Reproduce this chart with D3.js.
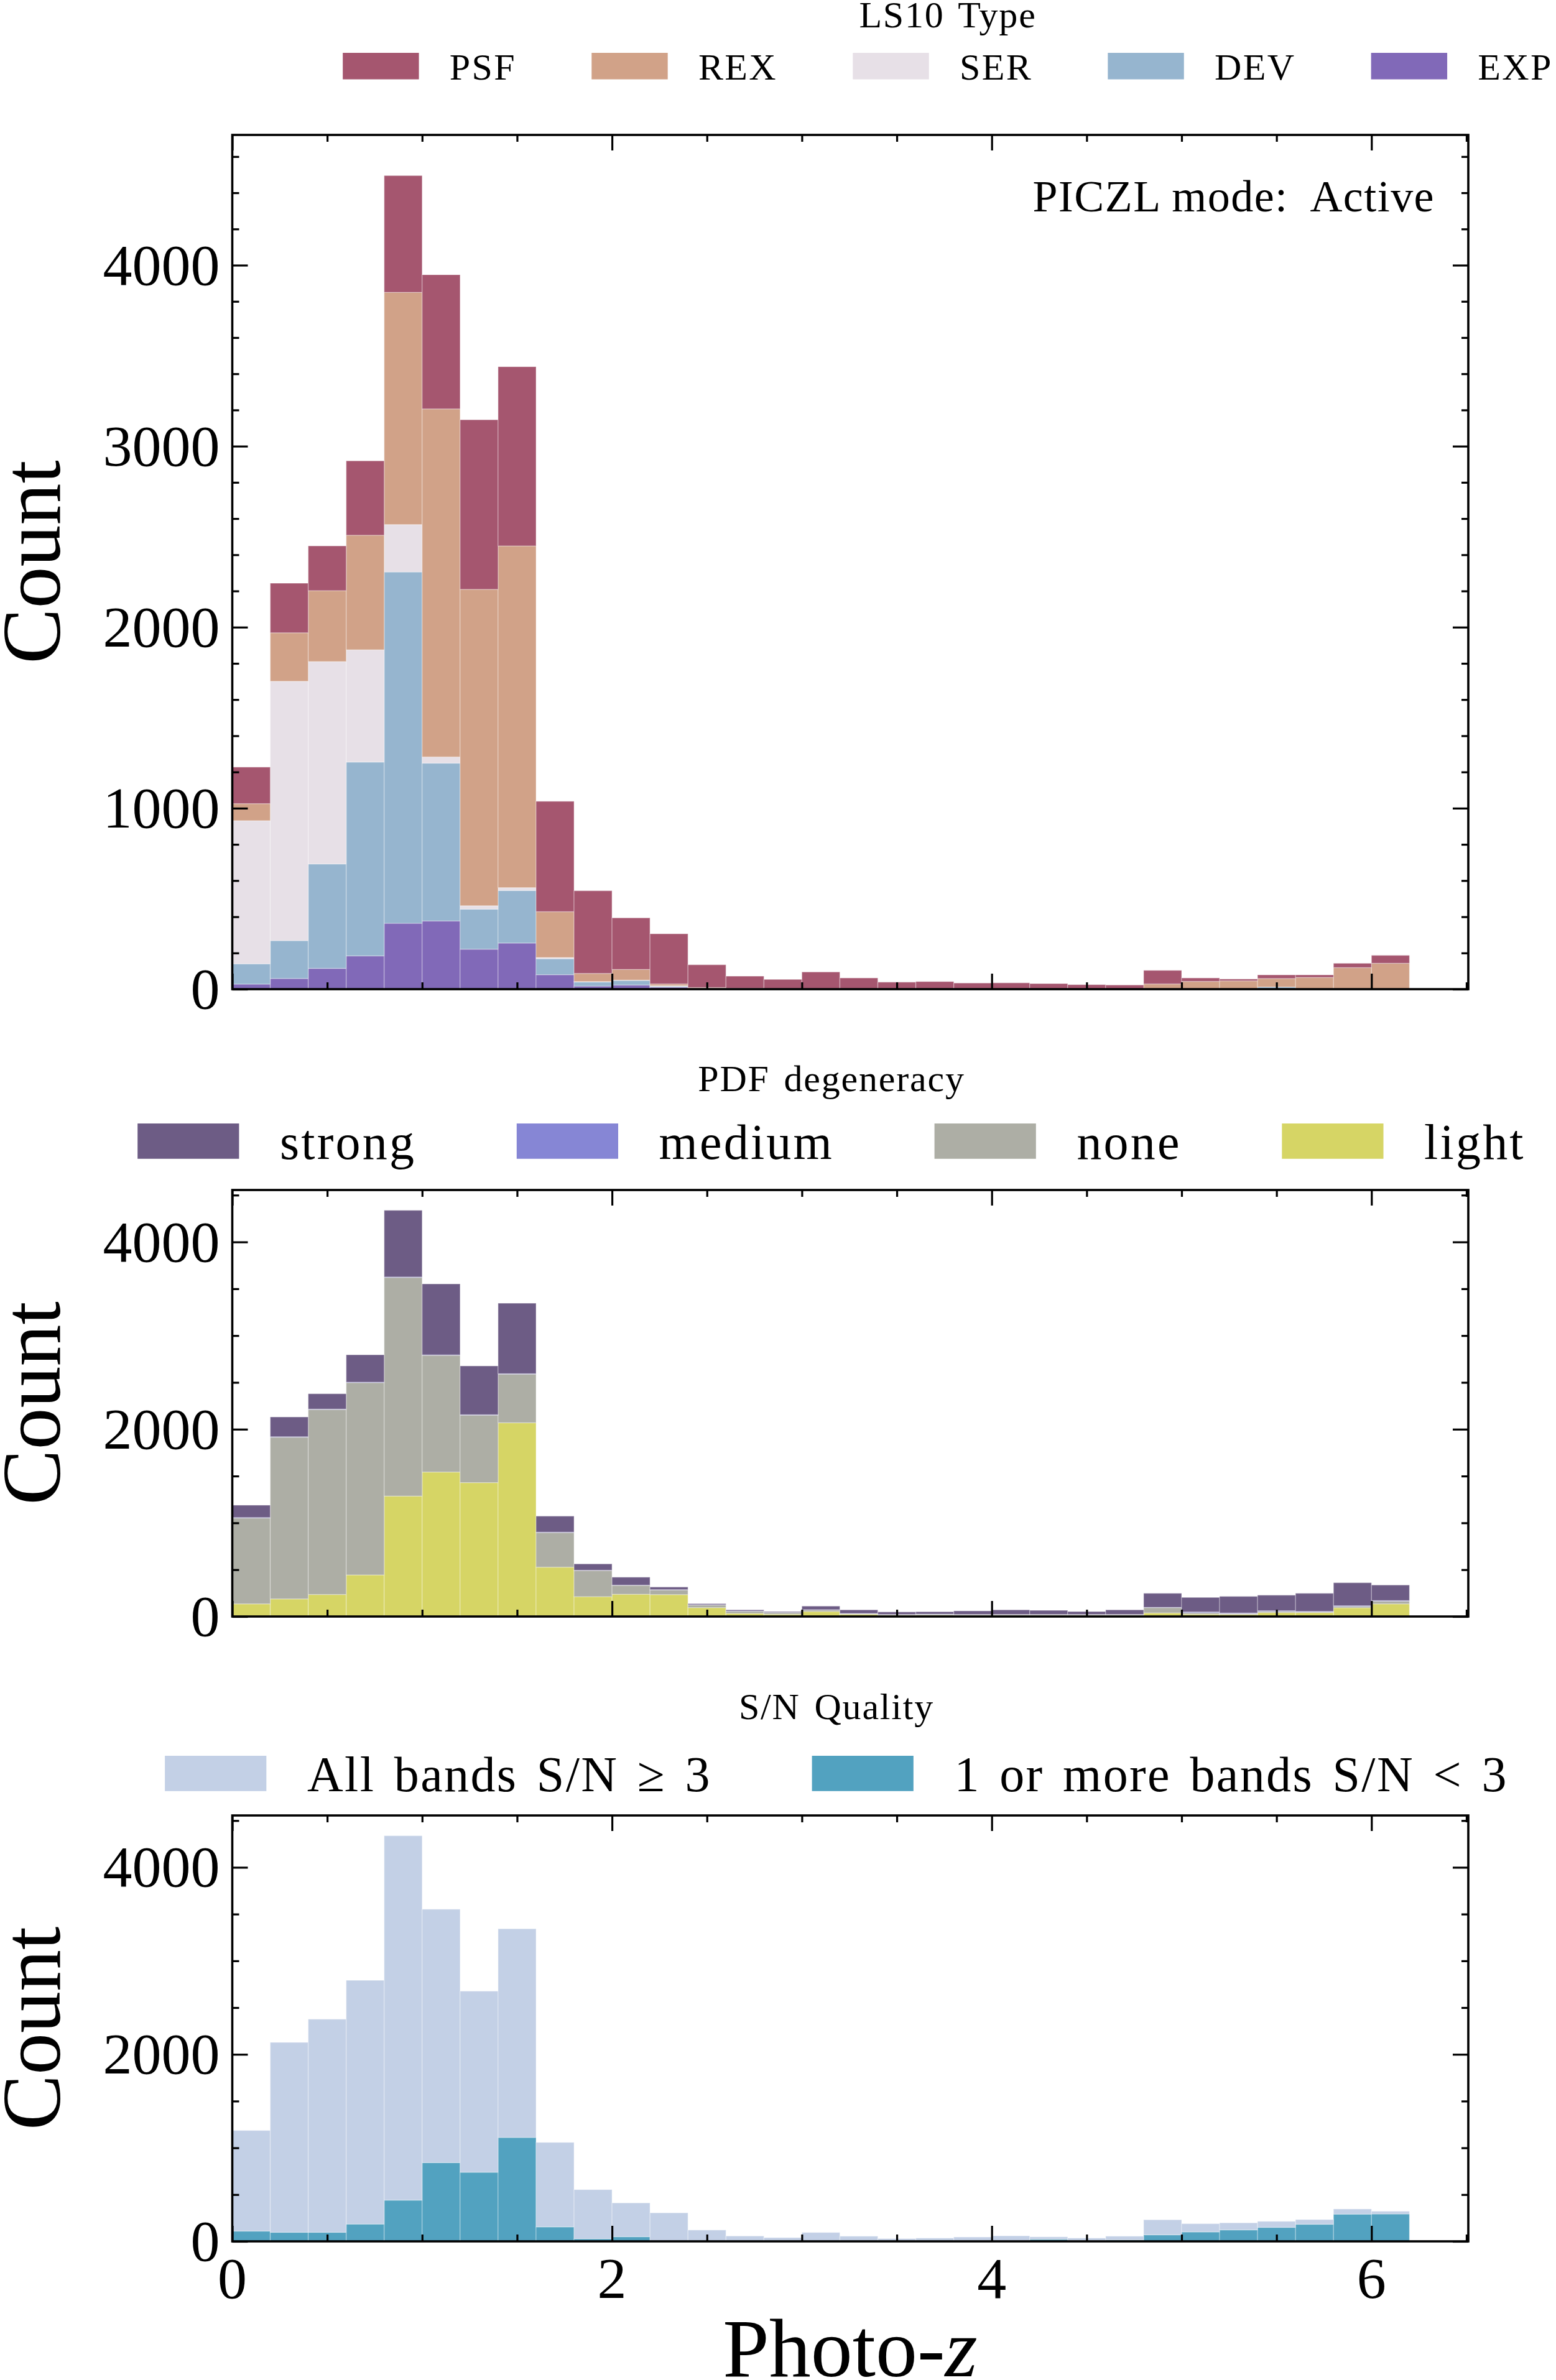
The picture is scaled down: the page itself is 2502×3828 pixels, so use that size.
<!DOCTYPE html>
<html><head><meta charset="utf-8">
<script src="https://cdn.jsdelivr.net/npm/d3@7"></script>
<style>
html,body{margin:0;padding:0;background:#fff;}
svg{display:block;}
text{font-family:"Liberation Serif","DejaVu Serif",serif;fill:#000;}
</style></head><body>
<svg id="chart" width="2502" height="3828"></svg>
<script>
// ---------------- DATA ----------------
const binStart = [0.0,0.2,0.4,0.6,0.8,1.0,1.2,1.4,1.6,1.8,2.0,2.2,2.4,2.6,2.8,3.0,3.2,3.4,3.6,3.8,4.0,4.2,4.4,4.6,4.8,5.0,5.2,5.4,5.6,5.8,6.0];
const binWidth = 0.2;

// Panel 1: LS10 Type (stacked, EXP at bottom)
const typeNames = ["PSF","REX","SER","DEV","EXP"];
const psf = [202,274,247,411,645,741,937,990,610,457,285,277,126,67,51,92,60,37,40,32,33,29,23,21,75,19,10,20,14,24,44];
const rex = [94,268,392,633,1283,1923,1748,1888,253,45,59,10,6,4,3,3,2,2,2,2,2,2,2,2,29,43,46,47,63,119,143];
const ser = [791,1433,1118,620,262,34,19,16,7,2,2,3,1,0,0,0,0,0,0,0,0,0,0,0,0,0,0,0,0,0,0];
const dev = [112,209,577,1071,1941,872,221,290,88,23,25,5,2,1,0,0,0,0,0,0,0,0,0,0,0,0,0,12,2,0,0];
const exp = [28,59,115,184,364,377,221,255,80,17,23,11,0,0,0,0,0,0,0,0,0,0,0,0,0,0,0,0,0,0,0];

// Panel 2: PDF degeneracy (stacked, light at bottom)
const degNames = ["strong","medium","none","light"];
const strong = [132,211,164,292,712,758,521,753,171,68,85,28,11,12,9,38,38,27,25,38,49,44,31,49,150,155,177,166,193,246,166];
const medium = [5,5,5,5,5,5,5,5,5,3,3,3,2,2,2,2,2,2,2,2,2,2,2,2,3,9,7,7,6,7,6];
const none   = [917,1727,1975,2054,2335,1246,720,519,369,279,94,50,29,24,18,18,7,7,9,9,9,9,9,9,57,16,9,13,7,15,29];
const light  = [135,188,235,444,1286,1543,1430,2069,527,212,238,234,95,33,24,53,24,13,15,11,11,11,11,11,38,24,22,42,42,93,135];

// Panel 3: S/N Quality (stacked, low S/N at bottom)
const snNames = ["All bands S/N \u2265 3","1 or more bands S/N < 3"];
const allBands = [1076,2031,2279,2607,3897,2710,1937,2232,903,525,361,305,121,57,40,95,55,29,35,37,52,26,26,40,161,88,75,64,50,55,29];
const lowSN    = [110,97,97,185,441,842,739,1111,155,28,50,0,0,0,0,0,0,0,0,9,7,22,9,15,70,101,123,150,183,291,293];

const xMajor = [0,2,4,6];
const xTickLabels = ["0","2","4","6"];

// ---------------- LAYOUT ----------------
const svg = d3.select("#chart");
const X0 = 373.5, X1 = 2361;
const x = d3.scaleLinear().domain([0, 6.51]).range([X0, X1]);
const FONT_TICK = 94;

function buildRows(names, arrays){
  return binStart.map((b,i)=>{
    const r = {x0:b, x1:b+binWidth};
    names.forEach((n,k)=>{ r[n] = arrays[k][i]; });
    return r;
  });
}

function drawPanel(cfg){
  const {top, bottom, names, arrays, stackOrder, colors, yMajorStep, yMinorStep, showXLabels} = cfg;
  const rows = buildRows(names, arrays);
  const totals = rows.map(r => names.reduce((s,n)=>s+r[n],0));
  const yMax = d3.max(totals) * 1.05;
  const y = d3.scaleLinear().domain([0, yMax]).range([bottom, top]);
  const g = svg.append("g");

  const stack = d3.stack().keys(stackOrder);
  const layers = stack(rows);
  layers.forEach(layer=>{
    g.append("g").selectAll("rect").data(layer).join("rect")
      .attr("x", d=>x(d.data.x0))
      .attr("width", d=>x(d.data.x1)-x(d.data.x0))
      .attr("y", d=>y(d[1]))
      .attr("height", d=>Math.max(0, y(d[0])-y(d[1])))
      .attr("fill", colors[layer.key])
      .attr("stroke", "#ffffff").attr("stroke-opacity", 0.3).attr("stroke-width", 1.4);
  });

  const H = bottom - top;
  const xMinor = d3.range(0, 6.51, 0.5).filter(v => xMajor.indexOf(v) < 0);
  const yMajor = d3.range(0, yMax, yMajorStep);
  const yMinor = d3.range(0, yMax, yMinorStep).filter(v => v % yMajorStep !== 0);

  function tickStyle(sel){
    sel.select(".domain").remove();
    sel.selectAll(".tick line").attr("stroke","#000").attr("stroke-width",3.2);
    sel.selectAll(".tick text").remove();
  }
  g.append("g").attr("transform",`translate(0,${bottom})`)
    .call(d3.axisBottom(x).tickValues(xMajor).tickSize(-25).tickFormat("")).call(tickStyle);
  g.append("g").attr("transform",`translate(0,${bottom})`)
    .call(d3.axisBottom(x).tickValues(xMinor).tickSize(-11).tickFormat("")).call(tickStyle);
  g.append("g").attr("transform",`translate(0,${top})`)
    .call(d3.axisTop(x).tickValues(xMajor).tickSize(-25).tickFormat("")).call(tickStyle);
  g.append("g").attr("transform",`translate(0,${top})`)
    .call(d3.axisTop(x).tickValues(xMinor).tickSize(-11).tickFormat("")).call(tickStyle);
  g.append("g").attr("transform",`translate(${X0},0)`)
    .call(d3.axisLeft(y).tickValues(yMajor).tickSize(-25).tickFormat("")).call(tickStyle);
  g.append("g").attr("transform",`translate(${X0},0)`)
    .call(d3.axisLeft(y).tickValues(yMinor).tickSize(-11).tickFormat("")).call(tickStyle);
  g.append("g").attr("transform",`translate(${X1},0)`)
    .call(d3.axisRight(y).tickValues(yMajor).tickSize(-25).tickFormat("")).call(tickStyle);
  g.append("g").attr("transform",`translate(${X1},0)`)
    .call(d3.axisRight(y).tickValues(yMinor).tickSize(-11).tickFormat("")).call(tickStyle);

  g.append("g").selectAll("text").data(yMajor).join("text")
    .attr("x", X0 - 20).attr("y", d => y(d) + FONT_TICK*0.33)
    .attr("text-anchor","end").attr("font-size", FONT_TICK)
    .text(d => String(d));

  if (showXLabels){
    g.append("g").selectAll("text").data(xMajor).join("text")
      .attr("x", d=>x(d)).attr("y", bottom + 27 + FONT_TICK*0.68)
      .attr("text-anchor","middle").attr("font-size", FONT_TICK)
      .text((d,i)=>xTickLabels[i]);
  }

  g.append("rect").attr("x",X0).attr("y",top).attr("width",X1-X0).attr("height",H)
    .attr("fill","none").attr("stroke","#000").attr("stroke-width",3.6);

  g.append("text").attr("transform",`translate(96,${(top+bottom)/2}) rotate(-90)`)
    .attr("text-anchor","middle").attr("font-size",134).text("Count");
  return g;
}

function drawLegend(cfg){
  const {title, names, colors, cx, titleBase, swTop, fs, titleFs, ls, ws} = cfg;
  const sw = 2.04*fs, sh = 0.71*fs, pad = 0.82*fs, colsp = 2.02*fs;
  const g = svg.append("g");
  g.append("text").attr("x",cx).attr("y",titleBase).attr("text-anchor","middle")
    .attr("font-size",titleFs).style("letter-spacing","0.03em").style("word-spacing","0.1em").text(title);
  const texts = names.map(n => g.append("text").attr("font-size",fs)
    .style("letter-spacing",ls).style("word-spacing",ws).text(n));
  const widths = texts.map(t => t.node().getComputedTextLength());
  const total = d3.sum(widths) + names.length*(sw+pad) + colsp*(names.length-1);
  let cur = cx - total/2;
  names.forEach((n,i)=>{
    g.append("rect").attr("x",cur).attr("y",swTop).attr("width",sw).attr("height",sh)
      .attr("fill",colors[n]);
    texts[i].attr("x", cur+sw+pad).attr("y", swTop+sh);
    cur += sw + pad + widths[i] + colsp;
  });
}

// ---------------- PANELS ----------------
const typeColors = {PSF:"#a5566f", REX:"#d1a288", SER:"#e7e0e7", DEV:"#96b5cf", EXP:"#8169b8"};
drawPanel({top:217, bottom:1591, names:typeNames, arrays:[psf,rex,ser,dev,exp],
  stackOrder:["EXP","DEV","SER","REX","PSF"], colors:typeColors,
  yMajorStep:1000, yMinorStep:200, showXLabels:false});
drawLegend({title:"LS10 Type", names:typeNames, colors:typeColors, cx:1524,
  titleBase:44, swTop:85, fs:60, titleFs:60, ls:"0.04em", ws:"0"});
svg.append("text").attr("x",2307).attr("y",340).attr("text-anchor","end")
  .attr("font-size",72).style("white-space","pre").style("letter-spacing","0.02em")
  .text("PICZL mode:  Active");

const degColors = {strong:"#6d5c85", medium:"#8686d5", none:"#adaea5", light:"#d6d565"};
drawPanel({top:1914, bottom:2600, names:degNames, arrays:[strong,medium,none,light],
  stackOrder:["light","none","medium","strong"], colors:degColors,
  yMajorStep:2000, yMinorStep:500, showXLabels:false});
drawLegend({title:"PDF degeneracy", names:degNames, colors:degColors, cx:1337,
  titleBase:1755, swTop:1807, fs:80, titleFs:60, ls:"0.04em", ws:"0"});

const snColors = {}; snColors[snNames[0]] = "#c3d0e6"; snColors[snNames[1]] = "#52a2c0";
drawPanel({top:2920, bottom:3605, names:snNames, arrays:[allBands,lowSN],
  stackOrder:[snNames[1], snNames[0]], colors:snColors,
  yMajorStep:2000, yMinorStep:500, showXLabels:true});
drawLegend({title:"S/N Quality", names:snNames, colors:snColors, cx:1345,
  titleBase:2765, swTop:2824, fs:80, titleFs:60, ls:"0.03em", ws:"0.1em"});

const xl = svg.append("text").attr("x",1367).attr("y",3822).attr("text-anchor","middle").attr("font-size",134);
xl.append("tspan").text("Photo-");
xl.append("tspan").attr("font-style","italic").text("z");
</script>
</body></html>
